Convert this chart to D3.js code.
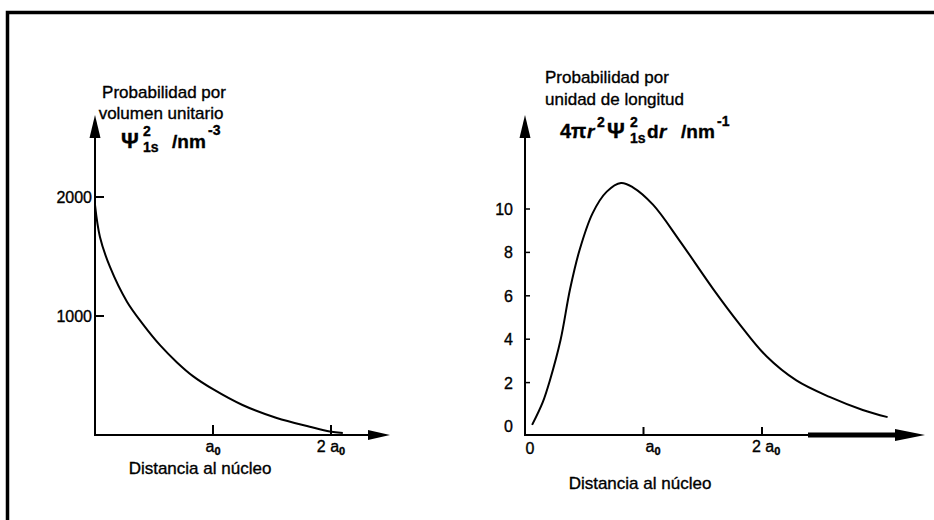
<!DOCTYPE html>
<html>
<head>
<meta charset="utf-8">
<script src="https://cdn.jsdelivr.net/npm/d3@7"></script>
<style>
  body { margin: 0; background: #fff; }
  svg text { font-family: "Liberation Sans", Arial, sans-serif; fill: #000; stroke: #000; stroke-width: 0.35px; }
</style>
</head>
<body>
<div id="chart"></div>
<script>
// values, r in units of a0

// left panel: Psi^2 (nm^-3) against r
var leftR    = [0, 0.042, 0.127, 0.271, 0.407, 0.551, 0.695, 0.83, 1.0, 1.25, 1.54, 1.82, 1.99, 2.1];
var leftPsi2 = [1933, 1664, 1412, 1120, 930, 755, 610, 495, 385, 252, 143, 70, 30, 17];
var leftYTicks = [1000, 2000];
var leftXTicks = [1, 2];

// right panel: 4 pi r^2 Psi^2 dr (nm^-1) against r
var rightR = [0.06, 0.15, 0.21, 0.30, 0.38, 0.46, 0.57, 0.69, 0.81, 0.91, 1.08, 1.31, 1.59, 1.81, 2.04, 2.29, 2.57, 2.85, 3.06];
var rightP = [0.05, 1.1, 2.1, 3.96, 6.3, 8.1, 9.8, 10.8, 11.2, 11.0, 10.2, 8.5, 6.3, 4.7, 3.2, 2.1, 1.34, 0.74, 0.41];
var rightYTicks = [0, 2, 4, 6, 8, 10];
var rightXTicks = [1, 2];

var W = 934, H = 520;

var svg = d3.select("#chart")
  .append("svg")
    .attr("width", W)
    .attr("height", H);

// frame (only top and left edges show)
svg.append("path")
  .attr("d", "M7.5,520 V12.5 H934")
  .attr("fill", "none")
  .attr("stroke", "#000")
  .attr("stroke-width", 3.5);

function arrowUp(x, tipY) {
  svg.append("path")
    .attr("d", "M" + x + "," + tipY + " L" + (x - 5.5) + "," + (tipY + 23) + " L" + (x + 5.5) + "," + (tipY + 23) + "Z")
    .attr("fill", "#000");
}

function xLabel(g, x, y, n, anchor) {
  var t = g.append("text")
    .attr("x", x)
    .attr("y", y)
    .attr("font-size", 16)
    .attr("text-anchor", anchor);
  if (n === 2) t.append("tspan").text("2 ");
  t.append("tspan").text("a");
  t.append("tspan").attr("dy", 3).attr("font-size", 11).attr("font-weight", "bold").text("0");
}

var line = d3.line().curve(d3.curveCatmullRom.alpha(0.5));

// ---------------- left panel ----------------
var xL = d3.scaleLinear().domain([0, 2]).range([95, 331]);
var yL = d3.scaleLinear().domain([0, 2000]).range([435, 197]);
var gL = svg.append("g");

// axes
gL.append("line").attr("x1", 95).attr("x2", 95).attr("y1", 130).attr("y2", 436)
  .attr("stroke", "#000").attr("stroke-width", 2);
gL.append("line").attr("x1", 94).attr("x2", 372).attr("y1", 435).attr("y2", 435)
  .attr("stroke", "#000").attr("stroke-width", 2);
arrowUp(95, 115);
gL.append("path").attr("d", "M390,435 L368,430 L368,440Z").attr("fill", "#000");

leftYTicks.forEach(function(v) {
  gL.append("line").attr("x1", 95).attr("x2", 104).attr("y1", yL(v)).attr("y2", yL(v))
    .attr("stroke", "#000").attr("stroke-width", 2);
  gL.append("text").attr("x", 92).attr("y", yL(v) + 6).attr("font-size", 16)
    .attr("text-anchor", "end").text(v);
});
leftXTicks.forEach(function(v) {
  gL.append("line").attr("x1", xL(v)).attr("x2", xL(v)).attr("y1", 425).attr("y2", 435)
    .attr("stroke", "#000").attr("stroke-width", 2);
  xLabel(gL, xL(v), 452, v, "middle");
});

gL.append("path")
  .attr("d", line(leftR.map(function(r, i) { return [xL(r), yL(leftPsi2[i])]; })))
  .attr("fill", "none").attr("stroke", "#000").attr("stroke-width", 2);

gL.append("text").attr("x", 164).attr("y", 98).attr("font-size", 17).attr("text-anchor", "middle")
  .text("Probabilidad por");
gL.append("text").attr("x", 161).attr("y", 119).attr("font-size", 17).attr("text-anchor", "middle")
  .text("volumen unitario");

// Psi^2_1s /nm^-3
gL.append("text").attr("x", 121).attr("y", 148).attr("font-size", 22).attr("font-weight", "bold").text("Ψ");
gL.append("text").attr("x", 143).attr("y", 136).attr("font-size", 14).attr("font-weight", "bold").text("2");
gL.append("text").attr("x", 143).attr("y", 152).attr("font-size", 14).attr("font-weight", "bold").text("1s");
gL.append("text").attr("x", 172).attr("y", 148).attr("font-size", 19).attr("font-weight", "bold").text("/nm");
gL.append("text").attr("x", 208).attr("y", 135).attr("font-size", 14).attr("font-weight", "bold").text("-3");

gL.append("text").attr("x", 200).attr("y", 474).attr("font-size", 17).attr("text-anchor", "middle")
  .text("Distancia al núcleo");

// ---------------- right panel ----------------
var xR = d3.scaleLinear().domain([0, 2]).range([525, 762]);
var yR = d3.scaleLinear().domain([0, 10]).range([426, 209]);
var gR = svg.append("g");

gR.append("line").attr("x1", 525).attr("x2", 525).attr("y1", 130).attr("y2", 436)
  .attr("stroke", "#000").attr("stroke-width", 2);
gR.append("line").attr("x1", 524).attr("x2", 808).attr("y1", 435).attr("y2", 435)
  .attr("stroke", "#000").attr("stroke-width", 2);
gR.append("line").attr("x1", 808).attr("x2", 900).attr("y1", 435).attr("y2", 435)
  .attr("stroke", "#000").attr("stroke-width", 5);
arrowUp(525, 115);
gR.append("path").attr("d", "M925,435 L895,429 L895,441Z").attr("fill", "#000");

rightYTicks.forEach(function(v) {
  if (v > 0) {
    gR.append("line").attr("x1", 525).attr("x2", 530).attr("y1", yR(v)).attr("y2", yR(v))
      .attr("stroke", "#000").attr("stroke-width", 1.5);
  }
  gR.append("text").attr("x", 513).attr("y", yR(v) + 6).attr("font-size", 16)
    .attr("text-anchor", "end").text(v);
});
gR.append("text").attr("x", 530).attr("y", 454).attr("font-size", 16).attr("text-anchor", "middle").text("0");
rightXTicks.forEach(function(v) {
  gR.append("line").attr("x1", xR(v)).attr("x2", xR(v)).attr("y1", 427).attr("y2", 435)
    .attr("stroke", "#000").attr("stroke-width", 2);
  xLabel(gR, v === 1 ? xR(v) + 2 : xR(v) - 10, 452, v, "start");
});

gR.append("path")
  .attr("d", line(rightR.map(function(r, i) { return [xR(r), yR(rightP[i])]; })))
  .attr("fill", "none").attr("stroke", "#000").attr("stroke-width", 2);

gR.append("text").attr("x", 545).attr("y", 83).attr("font-size", 17).text("Probabilidad por");
gR.append("text").attr("x", 545).attr("y", 105).attr("font-size", 17).text("unidad de longitud");

// 4 pi r^2 Psi^2_1s dr /nm^-1
gR.append("text").attr("x", 560).attr("y", 138).attr("font-size", 20).attr("font-weight", "bold").text("4π");
gR.append("text").attr("x", 587).attr("y", 138).attr("font-size", 19).attr("font-weight", "bold")
  .attr("font-style", "italic").text("r");
gR.append("text").attr("x", 597).attr("y", 127).attr("font-size", 14).attr("font-weight", "bold").text("2");
gR.append("text").attr("x", 607).attr("y", 138).attr("font-size", 22).attr("font-weight", "bold").text("Ψ");
gR.append("text").attr("x", 630).attr("y", 127).attr("font-size", 14).attr("font-weight", "bold").text("2");
gR.append("text").attr("x", 630).attr("y", 143).attr("font-size", 14).attr("font-weight", "bold").text("1s");
gR.append("text").attr("x", 647).attr("y", 138).attr("font-size", 19).attr("font-weight", "bold").text("d");
gR.append("text").attr("x", 659).attr("y", 138).attr("font-size", 19).attr("font-weight", "bold")
  .attr("font-style", "italic").text("r");
gR.append("text").attr("x", 681).attr("y", 138).attr("font-size", 19).attr("font-weight", "bold").text("/nm");
gR.append("text").attr("x", 717).attr("y", 126).attr("font-size", 14).attr("font-weight", "bold").text("-1");

gR.append("text").attr("x", 640).attr("y", 489).attr("font-size", 17).attr("text-anchor", "middle")
  .text("Distancia al núcleo");
</script>
</body>
</html>
